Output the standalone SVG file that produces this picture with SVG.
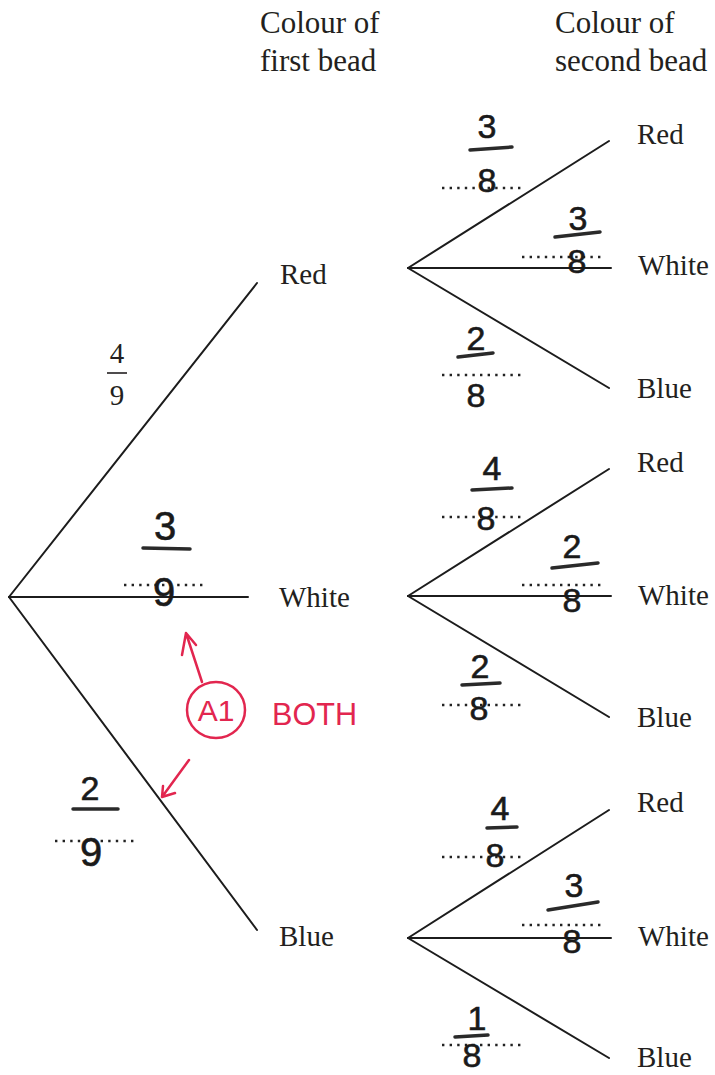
<svg xmlns="http://www.w3.org/2000/svg" width="715" height="1075" viewBox="0 0 715 1075">
<style>
.hd{font-family:"Liberation Serif","Times New Roman",serif;font-size:31px;fill:#231f20}
.lb{font-family:"Liberation Serif","Times New Roman",serif;font-size:29px;fill:#231f20}
.br{stroke:#1c1c1c;stroke-width:2;fill:none;stroke-linecap:round}
.hw{font-family:"Liberation Sans",Arial,sans-serif;font-size:34px;fill:#1a1a1a;stroke:#1a1a1a;stroke-width:0.6;text-anchor:middle}
.hwl{font-family:"Liberation Sans",Arial,sans-serif;font-size:40px;fill:#1a1a1a;stroke:#1a1a1a;stroke-width:0.6;text-anchor:middle}
.bar{stroke:#2a2a2a;stroke-width:3.5;stroke-linecap:round;fill:none}
.dot{stroke:#222;stroke-width:2.4;stroke-dasharray:2.4 5.2;fill:none}
.red{stroke:#e2264f;stroke-width:2.5;fill:none;stroke-linecap:round;stroke-linejoin:round}
.redt{font-family:"Liberation Sans",Arial,sans-serif;fill:#e2264f}
</style>
<g id="headers">
<text class="hd" x="260" y="33">Colour of</text>
<text class="hd" x="260" y="71">first bead</text>
<text class="hd" x="555" y="33">Colour of</text>
<text class="hd" x="555" y="71">second bead</text>
</g>
<g id="connectors">
<line class="br" x1="9" y1="597" x2="257" y2="283"/>
<line class="br" x1="9" y1="597" x2="248" y2="597"/>
<line class="br" x1="9" y1="597" x2="257" y2="930"/>
<line class="br" x1="408" y1="268" x2="609" y2="141"/>
<line class="br" x1="408" y1="268" x2="611" y2="268"/>
<line class="br" x1="408" y1="268" x2="609" y2="388"/>
<line class="br" x1="408" y1="596" x2="609" y2="469"/>
<line class="br" x1="408" y1="596" x2="611" y2="596"/>
<line class="br" x1="408" y1="596" x2="609" y2="717"/>
<line class="br" x1="408" y1="938" x2="609" y2="810"/>
<line class="br" x1="408" y1="938" x2="611" y2="938"/>
<line class="br" x1="408" y1="938" x2="609" y2="1058"/>
</g>
<g id="first-red"><text class="lb" x="280" y="284">Red</text></g>
<g id="first-white"><text class="lb" x="279" y="607">White</text></g>
<g id="first-blue"><text class="lb" x="279" y="946">Blue</text></g>
<g id="r-red"><text class="lb" x="637" y="144">Red</text></g>
<g id="r-white"><text class="lb" x="638" y="275">White</text></g>
<g id="r-blue"><text class="lb" x="637" y="398">Blue</text></g>
<g id="w-red"><text class="lb" x="637" y="472">Red</text></g>
<g id="w-white"><text class="lb" x="638" y="605">White</text></g>
<g id="w-blue"><text class="lb" x="637" y="727">Blue</text></g>
<g id="b-red"><text class="lb" x="637" y="812">Red</text></g>
<g id="b-white"><text class="lb" x="638" y="946">White</text></g>
<g id="b-blue"><text class="lb" x="637" y="1067">Blue</text></g>
<g id="first-probs">
<text class="lb" x="117" y="363" text-anchor="middle">4</text>
<line x1="107" y1="373" x2="127" y2="373" stroke="#231f20" stroke-width="1.6"/>
<text class="lb" x="117" y="405" text-anchor="middle">9</text>
<text class="hwl" x="165" y="540">3</text>
<path class="bar" d="M143 548 L190 549"/>
<line class="dot" x1="124" y1="585" x2="204" y2="585"/>
<text class="hwl" x="164" y="606">9</text>
<text class="hw" x="90" y="800">2</text>
<path class="bar" d="M73 809 L118 809"/>
<line class="dot" x1="55" y1="841" x2="135" y2="841"/>
<text class="hwl" x="91" y="866">9</text>
</g>
<g id="second-probs">
<text class="hw" x="487" y="138">3</text>
<path class="bar" d="M470 150 L512 147"/>
<line class="dot" x1="442" y1="188" x2="522" y2="188"/>
<text class="hw" x="487" y="192">8</text>
<text class="hw" x="578" y="230">3</text>
<path class="bar" d="M555 237 L600 232"/>
<line class="dot" x1="522" y1="257" x2="603" y2="257"/>
<text class="hw" x="577" y="273">8</text>
<text class="hw" x="476" y="350">2</text>
<path class="bar" d="M458 357 L493 353"/>
<line class="dot" x1="442" y1="375" x2="522" y2="375"/>
<text class="hw" x="476" y="407">8</text>
<text class="hw" x="492" y="480">4</text>
<path class="bar" d="M472 490 L512 488"/>
<line class="dot" x1="442" y1="517" x2="522" y2="517"/>
<text class="hw" x="486" y="530">8</text>
<text class="hw" x="572" y="558">2</text>
<path class="bar" d="M552 568 L598 563"/>
<line class="dot" x1="522" y1="585" x2="603" y2="585"/>
<text class="hw" x="572" y="612">8</text>
<text class="hw" x="480" y="678">2</text>
<path class="bar" d="M462 685 L500 683"/>
<line class="dot" x1="442" y1="705" x2="522" y2="705"/>
<text class="hw" x="479" y="720">8</text>
<text class="hw" x="500" y="820">4</text>
<path class="bar" d="M487 828 L517 827"/>
<line class="dot" x1="442" y1="857" x2="522" y2="857"/>
<text class="hw" x="495" y="867">8</text>
<text class="hw" x="574" y="897">3</text>
<path class="bar" d="M548 910 L598 902"/>
<line class="dot" x1="522" y1="925" x2="603" y2="925"/>
<text class="hw" x="572" y="953">8</text>
<text class="hw" x="477" y="1030">1</text>
<path class="bar" d="M455 1037 L488 1035"/>
<line class="dot" x1="442" y1="1045" x2="522" y2="1045"/>
<text class="hw" x="472" y="1067">8</text>
</g>
<g id="marking">
<path class="red" d="M202 682 L186 633 M182 655 L186 633 L196 645"/>
<ellipse class="red" cx="216" cy="710" rx="29" ry="28"/>
<text class="redt" x="216" y="721" font-size="30" text-anchor="middle">A1</text>
<text class="redt" x="272" y="725" font-size="32" textLength="85" lengthAdjust="spacingAndGlyphs">BOTH</text>
<path class="red" d="M189 760 L162 797 M163 786 L162 797 L175 793"/>
</g>
</svg>
